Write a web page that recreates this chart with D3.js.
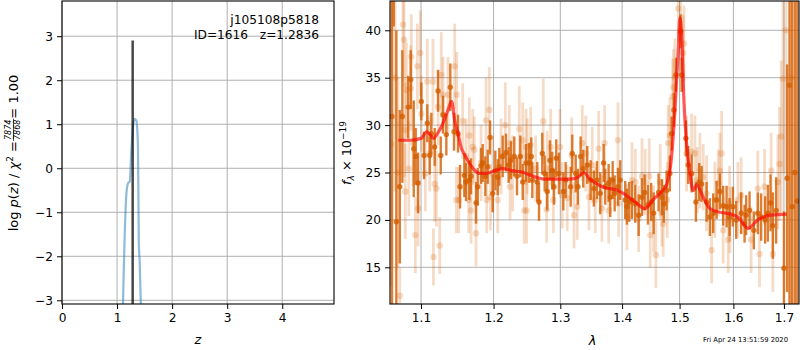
<!DOCTYPE html>
<html>
<head>
<meta charset="utf-8">
<script src="https://cdn.jsdelivr.net/npm/d3@7"></script>
<style>
body { margin: 0; background: #fff; }
svg { font-family: "DejaVu Sans", sans-serif; }
</style>
</head>
<body>
<svg width="800" height="350"></svg>
<script>
// ---- p(z) panel ----
let pzZ = [1.10, 1.12, 1.14, 1.17, 1.20, 1.23, 1.26, 1.29, 1.32, 1.35, 1.38, 1.395, 1.41, 1.43, 1.45]
let pzLog = [-3.5, -2.4, -1.48, -0.57, -0.34, -0.30, 0.42, 0.95, 1.12, 1.08, 0.49, -1.7, -2.1, -3.0, -3.6]
let zBest = 1.2836
let zBestTop = 2.9
let zTicks = [0, 1, 2, 3, 4]
let logTicks = [-3, -2, -1, 0, 1, 2, 3]

// ---- spectrum panel ----
let binWave = [1.0624,1.0646,1.0679,1.0723,1.0756,1.0830,1.0865,1.0904,1.0930,1.0961,
  1.1004,1.1040,1.1083,1.1115,1.1137,1.1182,1.1227,1.1263,1.1294,1.1339,
  1.1393,1.1444,1.1499,1.1527,1.1586,1.1610,1.1656,1.1680,1.1750,1.1774,
  1.1820,1.1845,1.1882,1.1916,1.1949,1.1988,1.2025,1.2060,1.2083,1.2132,
  1.2180,1.2219,1.2253,1.2302,1.2342,1.2391,1.2427,1.2476,1.2521,1.2555,
  1.2571,1.2646,1.2672,1.2722,1.2759,1.2798,1.2840,1.2875,1.2902,1.2937,
  1.2979,1.3047,1.3084,1.3163,1.3188,1.3242,1.3278,1.3321,1.3363,1.3427,
  1.3482,1.3535,1.3584,1.3638,1.3694,1.3720,1.3776,1.3803,1.3843,1.3876,
  1.3931,1.3969,1.4053,1.4082,1.4121,1.4167,1.4223,1.4281,1.4338,1.4384,
  1.4441,1.4498,1.4540,1.4627,1.4685,1.4720,1.4768,1.4826,1.4857,1.4898,
  1.4934,1.5018,1.5036,1.5114,1.5156,1.5218,1.5296,1.5357,1.5401,1.5494,
  1.5555,1.5617,1.5681,1.5743,1.5805,1.5870,1.5927,1.5990,1.6054,1.6150,
  1.6216,1.6247,1.6313,1.6397,1.6476,1.6541,1.6621,1.6675,1.6729,1.6775,
  1.6842,1.7000,1.7065,1.7114,1.7168,1.7223,1.7275]
let binFlux = [30.9,50,19.8,23.5,30.9,31.9,34.8,27.5,26.7,23.9,
  32.5,26.8,30.2,26.8,29.1,27.7,33.6,26.8,31.1,29.0,
  34.0,29.3,29.1,23.5,24.7,24.0,24.2,24.6,21.8,23.5,
  25.7,26.0,24.6,25.6,28.7,22.8,25.2,24.5,25.6,26.7,
  27.1,25.8,26.3,26.7,24.6,26.7,24.0,26.0,26.0,26.7,
  24.2,24.0,21.9,27.0,24.9,23.0,26.3,25.2,23.5,26.5,
  24.9,23.0,24.2,23.5,27.0,24.9,23.5,26.7,25.4,25.8,
  24.2,23.3,24.2,22.8,26.0,23.5,23.9,22.4,24.2,22.8,
  23.5,24.2,22.1,21.4,21.9,22.1,21.7,20.5,22.4,22.9,
  21.6,21.9,20.7,22.9,22.4,21.7,23.1,24.9,29.1,31.6,
  35.3,39.9,35.3,28.6,25.8,24.9,21.9,24.0,23.8,21.9,
  20.3,20.7,22.1,23.0,21.5,21.4,20.3,21.4,20.0,20.7,
  19.6,20.5,21.0,18.9,20.7,20.3,20.0,20.7,21.8,19.4,
  21.0,14.9,24.4,34.2,21.4,25,22]
let binErr = [20,9.6,20.2,8.1,7,3.3,3.1,5.1,3,3.2,
  2,2.5,2,2,2.2,2,2.2,2,2,2.2,
  2.5,2,2,2.3,2.3,2,2.1,1.9,2.2,2,
  1.9,2,2.1,1.8,1.8,2,2.1,1.9,2,2.2,
  2,1.9,2,2.1,2,2.2,1.9,2,2.1,2,
  1.9,2.1,2,2.2,1.9,2,2.1,2,1.9,2,
  2.2,2,1.9,2.1,2,2,1.9,2.1,2,2,
  2.1,1.9,2,2.2,2,1.9,2,2.1,2,1.9,
  2,2.1,2,1.9,2.1,2,2,2.2,2,1.9,
  2.1,2,2.2,2,1.9,2,2.1,1.9,1.8,1.8,
  1.8,1.8,1.8,1.9,2,2,2.1,2,1.9,2.1,
  2,2.1,2,1.9,2.1,2.2,2,2.1,2,2.2,
  2,2.1,2,2,2.2,2.5,2.5,3,3,3.5,
  3.5,6,12,25,30,40,40]

let rawWave = [1.0611,1.0662,1.0701,1.0723,1.0765,1.0778,1.0786,1.0794,1.0808,1.0839,
  1.0865,1.0872,1.0895,1.0925,1.0951,1.0961,1.0991,1.1004,1.1057,1.1083,
  1.1115,1.1159,1.1165,1.1182,1.1204,1.1227,1.1249,1.1271,1.1294,1.1362,
  1.1453,1.1476,1.1481,1.1509,1.1564,1.1610,1.1647,1.1656,1.1680,1.1703,
  1.1726,1.1750,1.1820,1.1892,1.1902,1.1939,1.1956,1.1988,1.2060,1.2108,
  1.2170,1.2229,1.2239,1.2278,1.2376,1.2427,1.2450,1.2476,1.2486,1.2495,
  1.2546,1.2621,1.2737,1.2789,1.2798,1.2851,1.2891,1.2995,1.3031,1.3109,
  1.3179,1.3215,1.3268,1.3348,1.3402,1.3455,1.3508,1.3557,1.3612,1.3666,
  1.3710,1.3776,1.3931,1.3943,1.4082,1.4167,1.4223,1.4281,1.4338,1.4394,
  1.4464,1.4481,1.4540,1.4580,1.4655,1.4685,1.4708,1.4779,1.4797,1.4826,
  1.4875,1.4889,1.4916,1.4976,1.5018,1.5065,1.5078,1.5126,1.5218,1.5278,
  1.5320,1.5370,1.5431,1.5494,1.5587,1.5649,1.5712,1.5743,1.5775,1.5805,
  1.5900,1.5927,1.5933,1.6086,1.6150,1.6344,1.6476,1.6509,1.6609,1.6741,
  1.6775,1.6877,1.6911,1.6945,1.6980,1.7040,1.7142]
let rawFlux = [28,35,25,12.0,40.6,39.0,29.5,23.0,33.7,25.4,
  33.9,37.2,28.1,18.4,36.2,21.2,37.6,31.2,24.9,34.6,
  27.0,34.6,16.1,23.8,23.3,31.9,17.3,35.3,33.2,33.2,
  36.2,22.1,33.2,22.1,30.4,26.7,22.1,28.9,21.0,27.7,
  27.4,18.6,26.0,30.5,22.1,31.6,22.4,24.9,22.1,26.7,
  30.0,28.1,23.5,24.9,29.6,28.4,21.0,27.7,21.0,26.7,
  27.9,25.4,30.4,21.1,25.4,27.7,22.1,27.7,22.6,22.3,
  26.8,20.5,21.4,28.1,27.0,22.4,25.8,22.1,27.5,21.2,
  28.1,21.0,28.4,21.7,20.3,24.2,24.0,20.1,24.6,24.0,
  24.6,18.4,20.1,16.3,24.0,20.7,19.6,22.1,28.1,28.9,
  33.0,34.0,35.1,42.3,39.7,37.6,38.6,27.0,27.2,27.0,
  24.2,25.2,24.5,22.8,16.8,22.1,23.9,25.2,27.0,18.9,
  17.9,21.7,20.0,22.1,22.6,17.9,23.3,16.4,23.5,25.2,
  16.4,24.0,25.9,28.8,34.9,40,35]
let rawErr = [15,12,10,3,6,5,5,5,5,5,
  4.5,4.5,4.5,4,4.5,4,4.5,4,4,4.5,
  4,4.5,3,4,4,4,3,4.5,4,4,
  4.5,3.5,4.5,3.5,4,4,3.5,4,3.5,4,
  3.5,3.5,4,4.5,3.5,4.5,3.5,4,3.5,4,
  4.5,4,3.5,4,4.5,4,3.5,4,3.5,4,
  4,3.5,4.5,3.5,4,4,3.5,4,3.5,3.5,
  4,3.5,3.5,4,4,3.5,4,3.5,4,3.5,
  4,3.5,4,3.5,3.5,4,3.5,3.5,4,3.5,
  4,3.5,3.5,3.5,4,3.5,3.5,4,4,4,
  4,4,4,3.5,4,4,4,4,4,4,
  3.5,4,3.5,4,3.5,4,3.5,4,4.5,3.5,
  3.5,4,3.5,4,4,3.5,4,3.5,4,4,
  4,5,6,8,10,15,25]

let modelWave = [1.0705,1.0856,1.1000,1.1075,1.1119,1.1163,1.1227,1.1294,1.1362,1.1410,
  1.1458,1.1503,1.1540,1.1596,1.1656,1.1722,1.1797,1.1892,1.2021,1.2141,
  1.2268,1.2436,1.2581,1.2748,1.3005,1.3153,1.3278,1.3374,1.3455,1.3580,
  1.3716,1.3886,1.4020,1.4218,1.4389,1.4540,1.4685,1.4773,1.4857,1.4916,
  1.4976,1.5006,1.5036,1.5078,1.5126,1.5187,1.5248,1.5310,1.5431,1.5555,
  1.5743,1.5970,1.6086,1.6286,1.6476,1.6741,1.7059]
let modelFlux = [28.4,28.4,28.6,29.3,29.0,28.6,29.2,30.2,31.6,32.5,
  30.3,29.0,27.7,26.8,26.0,25.3,24.9,24.9,25.2,25.4,
  25.2,25.0,24.6,24.3,24.3,24.3,24.5,25.0,24.4,23.8,
  23.4,23.2,22.8,21.9,21.2,22.2,23.0,23.8,26.7,31.6,
  37.9,41.3,39.7,32.6,28.1,24.9,23.1,23.7,22.4,21.2,
  20.8,20.6,20.3,19.1,20.0,20.5,20.6]

let waveTicks = [1.1, 1.2, 1.3, 1.4, 1.5, 1.6, 1.7]
let fluxTicks = [15, 20, 25, 30, 35, 40]

let objName = 'j105108p5818'
let objInfo = 'ID=1616   z=1.2836'
let stamp = 'Fri Apr 24 13:51:59 2020'

// ---- layout ----
let fs = 12.2
let fsLab = 13
let svg = d3.select('svg')
let gridColor = '#b0b0b0'
let specColor = '#d55e00'

let L = {x0: 62, x1: 334, y0: 1, y1: 304}
let R = {x0: 390, x1: 799, y0: 1, y1: 304}

let xz = d3.scaleLinear().domain([0, 4.94]).range([L.x0, L.x1])
let yz = d3.scaleLinear().domain([-3.084, 3.80]).range([L.y1, L.y0])
let xw = d3.scaleLog().domain([1.0598, 1.731]).range([R.x0, R.x1])
let yf = d3.scaleLinear().domain([11.13, 43.09]).range([R.y1, R.y0])

let defs = svg.append('defs')
defs.append('clipPath').attr('id', 'clipL').append('rect')
  .attr('x', L.x0).attr('y', L.y0).attr('width', L.x1 - L.x0).attr('height', L.y1 - L.y0)
defs.append('clipPath').attr('id', 'clipR').append('rect')
  .attr('x', R.x0).attr('y', R.y0).attr('width', R.x1 - R.x0).attr('height', R.y1 - R.y0)

let drawGrid = (box, xs, ys, xt, yt) => {
  let g = svg.append('g')
  g.selectAll('.gx').data(xt).enter().append('line')
    .attr('x1', d => xs(d)).attr('x2', d => xs(d))
    .attr('y1', box.y0).attr('y2', box.y1)
    .attr('stroke', gridColor).attr('stroke-width', 1)
  g.selectAll('.gy').data(yt).enter().append('line')
    .attr('x1', box.x0).attr('x2', box.x1)
    .attr('y1', d => ys(d)).attr('y2', d => ys(d))
    .attr('stroke', gridColor).attr('stroke-width', 1)
}

let drawAxes = (box, xs, ys, xt, yt, xfmt, yfmt) => {
  let ax = svg.append('g').attr('transform', `translate(0,${box.y1})`)
    .call(d3.axisBottom(xs).tickValues(xt).tickFormat(xfmt).tickSize(5).tickPadding(4))
  let ay = svg.append('g').attr('transform', `translate(${box.x0},0)`)
    .call(d3.axisLeft(ys).tickValues(yt).tickFormat(yfmt).tickSize(5).tickPadding(4))
  ;[ax, ay].forEach(a => {
    a.select('.domain').remove()
    a.attr('font-family', null).attr('font-size', fs)
    a.selectAll('text').attr('fill', '#000')
    a.selectAll('line').attr('stroke', '#000').attr('stroke-width', 1)
  })
  svg.append('rect')
    .attr('x', box.x0).attr('y', box.y0)
    .attr('width', box.x1 - box.x0).attr('height', box.y1 - box.y0)
    .attr('fill', 'none').attr('stroke', '#000').attr('stroke-width', 1.1)
}

// ---- left panel ----
drawGrid(L, xz, yz, zTicks, logTicks)

let pz = pzZ.map((z, i) => ({z: z, p: pzLog[i]}))
let gL = svg.append('g').attr('clip-path', 'url(#clipL)')
gL.append('path')
  .datum(pz)
  .attr('d', d3.line().x(d => xz(d.z)).y(d => yz(d.p)).curve(d3.curveMonotoneX))
  .attr('fill', 'none').attr('stroke', '#1f77b4').attr('stroke-opacity', 0.5).attr('stroke-width', 2.2)
gL.append('line')
  .attr('x1', xz(zBest)).attr('x2', xz(zBest))
  .attr('y1', yz(-3.084)).attr('y2', yz(zBestTop))
  .attr('stroke', '#000').attr('stroke-opacity', 0.72).attr('stroke-width', 2.5)

drawAxes(L, xz, yz, zTicks, logTicks, d3.format('d'), d3.format('d'))

svg.append('text').attr('x', 319).attr('y', 24).attr('text-anchor', 'end')
  .attr('font-size', fs).text(objName)
svg.append('text').attr('x', 319).attr('y', 39).attr('text-anchor', 'end')
  .attr('font-size', fs).style('white-space', 'pre').text(objInfo)

svg.append('text').attr('x', (L.x0 + L.x1) / 2).attr('y', 344).attr('text-anchor', 'middle')
  .attr('font-size', 13).attr('font-style', 'italic').text('z')

// y label with fraction
let labL = svg.append('g')
let t1 = labL.append('text').attr('font-size', fsLab).attr('x', 0).attr('y', 0)
t1.append('tspan').text('log ')
t1.append('tspan').attr('font-style', 'italic').text('p')
t1.append('tspan').text('(')
t1.append('tspan').attr('font-style', 'italic').text('z')
t1.append('tspan').text(') / ')
t1.append('tspan').attr('font-style', 'italic').text('χ')
t1.append('tspan').attr('font-size', fsLab * 0.7).attr('dy', -5.5).text('2')
t1.append('tspan').attr('dy', 5.5).text(' = ')
let w1 = t1.node().getComputedTextLength()
let num = labL.append('text').attr('font-size', 8).attr('font-style', 'italic').attr('y', -6.6).text('7874')
let den = labL.append('text').attr('font-size', 8).attr('font-style', 'italic').attr('y', 2.4).text('7868')
let wf = Math.max(num.node().getComputedTextLength(), den.node().getComputedTextLength())
num.attr('x', w1 + 1)
den.attr('x', w1 + 1)
labL.append('line').attr('x1', w1).attr('x2', w1 + wf + 2).attr('y1', -4.5).attr('y2', -4.5)
  .attr('stroke', '#000').attr('stroke-width', 0.7)
let t2 = labL.append('text').attr('font-size', fsLab).attr('x', w1 + wf + 2).attr('y', 0).text(' = 1.00')
let wTot = w1 + wf + 2 + t2.node().getComputedTextLength()
labL.attr('transform', `translate(18,${153 + wTot / 2}) rotate(-90)`)

// ---- right panel ----
drawGrid(R, xw, yf, waveTicks, fluxTicks)

let gR = svg.append('g').attr('clip-path', 'url(#clipR)')

let drawErr = (wave, flux, err, alpha, lw, r) => {
  let pts = wave.map((w, i) => ({w: w, f: flux[i], e: err[i]}))
  let g = gR.append('g')
  g.selectAll('line').data(pts).enter().append('line')
    .attr('x1', d => xw(d.w)).attr('x2', d => xw(d.w))
    .attr('y1', d => yf(d.f - d.e)).attr('y2', d => yf(d.f + d.e))
    .attr('stroke', specColor).attr('stroke-opacity', alpha).attr('stroke-width', lw)
  g.selectAll('circle').data(pts).enter().append('circle')
    .attr('cx', d => xw(d.w)).attr('cy', d => yf(d.f)).attr('r', r)
    .attr('fill', specColor).attr('fill-opacity', alpha)
}

drawErr(rawWave, rawFlux, rawErr, 0.22, 2.8, 3.2)
drawErr(binWave, binFlux, binErr, 0.8, 2.4, 2.7)

let model = modelWave.map((w, i) => ({w: w, f: modelFlux[i]}))
gR.append('path')
  .datum(model)
  .attr('d', d3.line().x(d => xw(d.w)).y(d => yf(d.f)).curve(d3.curveMonotoneX))
  .attr('fill', 'none').attr('stroke', 'red').attr('stroke-opacity', 0.65).attr('stroke-width', 3.2)
  .attr('stroke-linejoin', 'round')

drawAxes(R, xw, yf, waveTicks, fluxTicks, d3.format('.1f'), d3.format('d'))

svg.append('text').attr('x', (R.x0 + R.x1) / 2 - 2).attr('y', 345).attr('text-anchor', 'middle')
  .attr('font-size', 13).attr('font-style', 'italic').text('λ')

let labR = svg.append('text').attr('font-size', 12.8).attr('text-anchor', 'middle')
  .attr('transform', 'translate(351,153) rotate(-90)')
labR.append('tspan').attr('font-style', 'italic').text('f')
labR.append('tspan').attr('font-style', 'italic').attr('font-size', 9).attr('dy', 3).text('λ')
labR.append('tspan').attr('dy', -3).text(' × 10')
labR.append('tspan').attr('font-size', 9).attr('dy', -5).text('−19')

svg.append('text').attr('x', 788).attr('y', 342).attr('text-anchor', 'end')
  .attr('font-size', 6.8).text(stamp)
</script>
</body>
</html>
